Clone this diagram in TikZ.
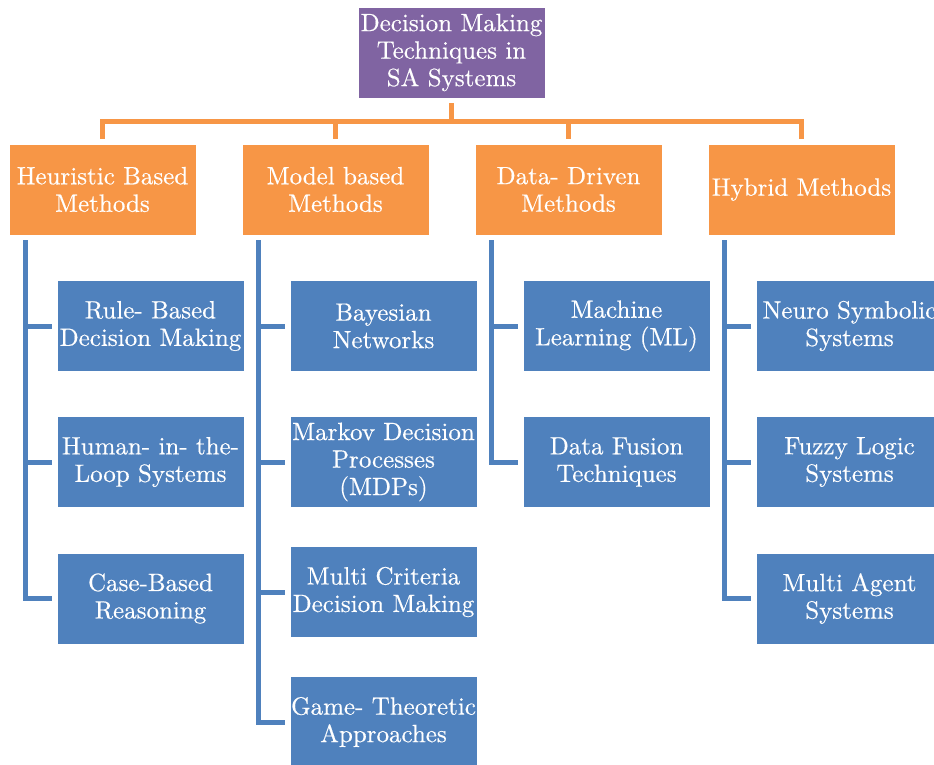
\documentclass[tikz,border=0pt]{standalone}
\usepackage{fontspec}
\newfontfamily\boxfont{lmroman10-regular}[Extension=.otf,FakeBold=0.4]
\definecolor{toppurple}{HTML}{8064A2}
\definecolor{catorange}{HTML}{F79646}
\definecolor{leafblue}{HTML}{4F81BD}
\begin{document}
\begin{tikzpicture}[x=1pt,y=-1pt,
  box/.style={draw=white,line width=0.8pt,minimum width=187pt,minimum height=91pt,inner sep=0pt,
    align=center,text=white,font=\boxfont\fontsize{25}{27.5}\selectfont},
  topbox/.style={box,fill=toppurple},
  catbox/.style={box,fill=catorange},
  leafbox/.style={box,fill=leafblue},
  oline/.style={draw=catorange,line width=5pt,shorten <=5pt,shorten >=5pt},
  bline/.style={draw=leafblue,line width=5pt,shorten <=5pt,shorten >=5pt}]
\clip (0,0) rectangle (934,765);
\useasboundingbox (0,0) rectangle (934,765);
\node[topbox] (top) at (451.5,52.5) {Decision Making\\Techniques in\\SA Systems};
\node[catbox] (h) at (102.5,189.5) {Heuristic Based\\Methods};
\node[catbox] (m) at (335.5,189.5) {Model based\\Methods};
\node[catbox] (d) at (568.5,189.5) {Data- Driven\\Methods};
\node[catbox] (y) at (801.5,189.5) {Hybrid Methods};
\node[leafbox] (h1) at (150.5,326) {Rule- Based\\Decision Making};
\node[leafbox] (h2) at (150.5,462) {Human- in- the-\\Loop Systems};
\node[leafbox] (h3) at (150.5,598.5) {Case-Based\\Reasoning};
\node[leafbox] (m1) at (383.5,326) {Bayesian\\Networks};
\node[leafbox] (m2) at (383.5,462) {Markov Decision\\Processes\\(MDPs)};
\node[leafbox] (m3) at (383.5,592) {Multi Criteria\\Decision Making};
\node[leafbox] (m4) at (383.5,722) {Game- Theoretic\\Approaches};
\node[leafbox] (d1) at (616.5,326) {Machine\\Learning (ML)};
\node[leafbox] (d2) at (616.5,462) {Data Fusion\\Techniques};
\node[leafbox] (y1) at (849.5,326) {Neuro Symbolic\\Systems};
\node[leafbox] (y2) at (849.5,462) {Fuzzy Logic\\Systems};
\node[leafbox] (y3) at (849.5,598.5) {Multi Agent\\Systems};
\foreach \c in {h,m,d,y}{
  \draw[oline] (top.south) -- ++(0,23) -| (\c.north);
}
\foreach \c/\k in {h/h1,h/h2,h/h3,m/m1,m/m2,m/m3,m/m4,d/d1,d/d2,y/y1,y/y2,y/y3}{
  \draw[bline] ([xshift=17pt]\c.south west) |- (\k.west);
}
\end{tikzpicture}
\end{document}
